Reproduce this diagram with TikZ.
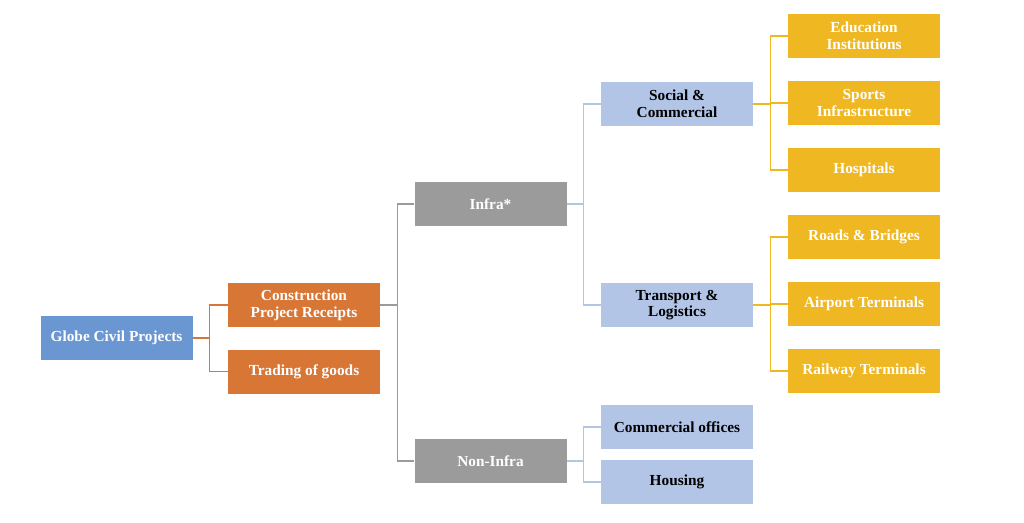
\documentclass[tikz,border=0pt]{standalone}
\usepackage{fontspec}
\setmainfont{Liberation Serif}
\definecolor{cblue}{HTML}{6A96D2}
\definecolor{corange}{HTML}{D87636}
\definecolor{cgray}{HTML}{9B9B9B}
\definecolor{clblue}{HTML}{B3C5E6}
\definecolor{cgold}{HTML}{EFB822}
\begin{document}
\begin{tikzpicture}[x=0.75pt,y=-0.75pt,
  box/.style={minimum width=114pt,minimum height=33pt,inner sep=1pt,align=center,font=\fontsize{11.5}{12.5}\selectfont\bfseries},
  wbox/.style={box,fill=#1,text=white},
  bbox/.style={box,fill=clblue,text=black},
  conn/.style={draw=#1,line width=0.8pt}]
\useasboundingbox (0,0) rectangle (1024,522);
\node[wbox=cblue] (g) at (116.5,338) {Globe Civil Projects};
\node[wbox=corange] (cp) at (304,305) {Construction\\Project Receipts};
\node[wbox=corange] (tg) at (304,371.5) {Trading of goods};
\node[wbox=cgray] (in) at (490.5,204) {Infra*};
\node[wbox=cgray] (ni) at (490.5,461) {Non-Infra};
\node[bbox] (sc) at (677,104) {Social \&\\Commercial};
\node[bbox] (tl) at (677,305) {Transport \&\\Logistics};
\node[bbox] (co) at (677,427) {Commercial offices};
\node[bbox] (ho) at (677,482) {Housing};
\node[wbox=cgold] (ed) at (864,36) {Education\\Institutions};
\node[wbox=cgold] (sp) at (864,103) {Sports\\Infrastructure};
\node[wbox=cgold] (hs) at (864,170) {Hospitals};
\node[wbox=cgold] (rb) at (864,237) {Roads \& Bridges};
\node[wbox=cgold] (at) at (864,304) {Airport Terminals};
\node[wbox=cgold] (rt) at (864,371) {Railway Terminals};
\foreach \a/\b/\c in {g/cp/corange,g/tg/corange,cp/in/cgray,cp/ni/cgray,in/sc/clblue,in/tl/clblue,ni/co/clblue,ni/ho/clblue,sc/ed/cgold,sc/sp/cgold,sc/hs/cgold,tl/rb/cgold,tl/at/cgold,tl/rt/cgold}
  \draw[conn=\c] (\a.east) -- ++(17,0) |- (\b.west);
\end{tikzpicture}
\end{document}
